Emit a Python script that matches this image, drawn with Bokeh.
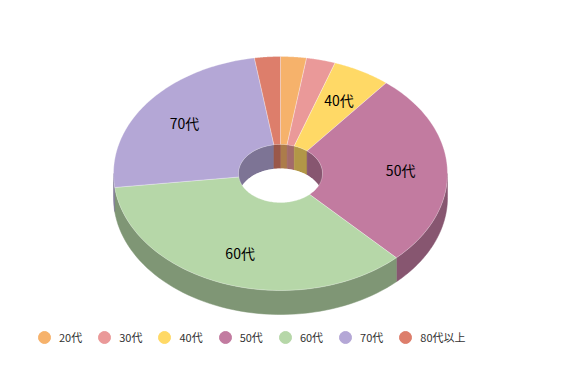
import numpy as np
from bokeh.plotting import figure
from bokeh.models import Range1d, ColumnDataSource, Legend, LegendItem
from bokeh.core.properties import value
from bokeh.embed import file_html
from bokeh.resources import INLINE

# ---- data ----
categories = ["20代", "30代", "40代", "50代", "60代", "70代", "80代以上"]
values = [2.5, 2.8, 5.6, 26.9, 35.3, 24.4, 2.5]
colors = ["#F6B26B", "#EA9999", "#FFD966", "#C27BA0", "#B6D7A8", "#B4A7D6", "#DD7E6B"]

# ---- geometry / style ----
W, H = 562, 371
CX, CY = 280, 173
RX, RY = 167, 117
IRX, IRY = 42, 29
DEPTH = 24
SHADE = 0.7
LABEL_R = 0.72
FONT = "Noto Sans CJK JP"


def darken(hexcol, f):
    h = hexcol.lstrip("#")
    r, g, b = (int(h[i:i + 2], 16) for i in (0, 2, 4))
    return "#%02x%02x%02x" % (int(r * f), int(g * f), int(b * f))


def pt(t, rx, ry, dy=0.0):
    return CX + rx * np.sin(t), CY - ry * np.cos(t) + dy


def wall(a, b, rx, ry):
    ts = np.linspace(a, b, 60)
    x1, y1 = pt(ts, rx, ry)
    x2, y2 = pt(ts[::-1], rx, ry, DEPTH)
    return list(np.concatenate([x1, x2])), list(np.concatenate([y1, y2]))


def overlap(a, b, lo, hi):
    s, e = max(a, lo), min(b, hi)
    return (s, e) if e > s else None


vals = np.array(values, dtype=float)
frac = vals / vals.sum()
ends = np.cumsum(frac) * 2 * np.pi
starts = ends - frac * 2 * np.pi

p = figure(width=W, height=H, x_range=Range1d(0, W), y_range=Range1d(H, 0),
           output_backend="svg", toolbar_location=None, min_border=0,
           x_axis_location=None, y_axis_location=None)
p.grid.visible = False
p.outline_line_color = None
p.background_fill_color = "white"

# 1. inner back walls (visible through the hole)
wx, wy, wc = [], [], []
for s, e, c in zip(starts, ends, colors):
    for lo, hi in ((0, np.pi / 2), (3 * np.pi / 2, 2 * np.pi)):
        ov = overlap(s, e, lo, hi)
        if ov:
            xs, ys = wall(ov[0], ov[1], IRX, IRY)
            wx.append(xs); wy.append(ys); wc.append(darken(c, SHADE))
p.patches(wx, wy, fill_color=wc, line_color=wc, line_width=0.5)

# 2. bottom opening of the hole
tt = np.linspace(0, 2 * np.pi, 120)
hx, hy = pt(tt, IRX, IRY, DEPTH)
p.patch(list(hx), list(hy), fill_color="white", line_color=None)

# 3. outer front walls
fx, fy, fc = [], [], []
for s, e, c in zip(starts, ends, colors):
    ov = overlap(s, e, np.pi / 2, 3 * np.pi / 2)
    if ov:
        xs, ys = wall(ov[0], ov[1], RX, RY)
        fx.append(xs); fy.append(ys); fc.append(darken(c, SHADE))
p.patches(fx, fy, fill_color=fc, line_color=fc, line_width=0.5)

# 4. top surfaces
tx, ty = [], []
for s, e in zip(starts, ends):
    ts = np.linspace(s, e, 80)
    ox, oy = pt(ts, RX, RY)
    ix, iy = pt(ts[::-1], IRX, IRY)
    tx.append(list(np.concatenate([ox, ix])))
    ty.append(list(np.concatenate([oy, iy])))
p.patches(tx, ty, fill_color=colors, line_color="white", line_width=0.6, line_alpha=0.5)

# 5. data labels
mids = (starts + ends) / 2
lx, ly, lt = [], [], []
for m, f, cat in zip(mids, frac, categories):
    if f > 0.04:
        x, y = pt(m, RX * LABEL_R, RY * LABEL_R)
        lx.append(x); ly.append(y); lt.append(cat)
p.text(lx, ly, text=lt, text_align="center", text_baseline="middle",
       text_font=value(FONT), text_font_size="14px", text_color="#000000")

# 6. legend (marker glyphs only; NaN data draws nothing in the plot)
items = []
for cat, c in zip(categories, colors):
    r = p.scatter(x=[np.nan], y=[np.nan], marker="circle", fill_color=c, line_color=c)
    items.append(LegendItem(label=cat, renderers=[r]))
legend = Legend(items=items, orientation="horizontal", location=(29, 19),
                glyph_width=30, glyph_height=30, label_standoff=0, spacing=7,
                padding=0, margin=0, border_line_alpha=0, background_fill_alpha=0,
                label_text_font=FONT, label_text_font_size="11px",
                label_text_color="#333333")
p.add_layout(legend, "center")

open("out.html", "w").write(file_html(p, INLINE))
